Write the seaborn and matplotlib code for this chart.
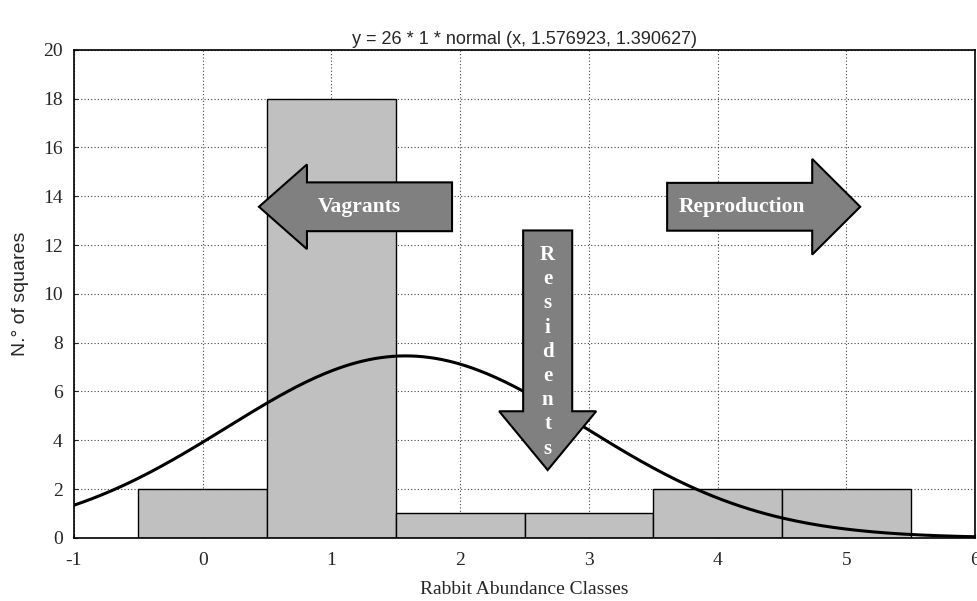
import numpy as np
import pandas as pd
import matplotlib
matplotlib.use("Agg")
import matplotlib.pyplot as plt
import seaborn as sns
from matplotlib.patches import FancyArrow

# histogram data: number of squares per rabbit abundance class
classes = [0, 1, 2, 3, 4, 5]
counts = [2, 18, 1, 1, 2, 2]

# fitted normal from the chart title
n_total = 26
mu = 1.576923
sigma = 1.390627

x_ticks = [-1, 0, 1, 2, 3, 4, 5, 6]
y_ticks = [0, 2, 4, 6, 8, 10, 12, 14, 16, 18, 20]


def fitted_curve():
    x = np.linspace(-1, 6, 300)
    y = n_total * 1 * np.exp(-0.5 * ((x - mu) / sigma) ** 2) / (sigma * np.sqrt(2 * np.pi))
    return pd.DataFrame({"x": x, "y": y})


sns.set_style("ticks")
plt.rcParams["font.family"] = ["Liberation Serif", "DejaVu Serif"]
plt.rcParams["axes.unicode_minus"] = False

fig = plt.figure(figsize=(9.77, 6.01), dpi=100)
ax = fig.add_axes([0.0757, 0.105, 0.9223, 0.812])

df = pd.DataFrame({"cls": classes, "n": counts})
sns.histplot(data=df, x="cls", weights="n", discrete=True, ax=ax,
             color="#c0c0c0", edgecolor="black", linewidth=1.0, alpha=1, zorder=2)

curve = fitted_curve()
sns.lineplot(data=curve, x="x", y="y", ax=ax, color="black", linewidth=2.2, zorder=3)

ax.set_xlim(-1, 6)
ax.set_ylim(0, 20)
ax.set_xticks(x_ticks)
ax.set_yticks(y_ticks)
ax.grid(True, color="#444444", linestyle=(0, (1, 2)), linewidth=0.8, zorder=0)
ax.set_axisbelow(True)
ax.tick_params(direction="in", length=3, labelsize=14, width=0.8)
ax.tick_params(axis="x", pad=10)
ax.tick_params(axis="y", pad=8)
for s in ax.spines.values():
    s.set_linewidth(1.2)
    s.set_color("black")

ax.set_xlabel("Rabbit Abundance Classes", fontsize=14, labelpad=9)
ax.set_ylabel("N.° of squares", fontsize=14, family=["Liberation Sans"], labelpad=10)
ax.set_title("y = 26 * 1 * normal (x, 1.576923, 1.390627)", fontsize=13,
             family=["Liberation Sans"], pad=4)

# annotation arrows
arrow_style = dict(length_includes_head=True, facecolor="#808080",
                   edgecolor="black", linewidth=1.5, zorder=5)
ax.add_patch(FancyArrow(1.937, 13.57, -1.50, 0, width=2.0, head_width=3.47,
                        head_length=0.373, **arrow_style))
ax.text(1.22, 13.57, "Vagrants", color="white", fontsize=15.5, fontweight="bold",
        ha="center", va="center", zorder=6)

ax.add_patch(FancyArrow(3.608, 13.57, 1.50, 0, width=1.96, head_width=3.92,
                        head_length=0.373, **arrow_style))
ax.text(4.19, 13.57, "Reproduction", color="white", fontsize=15.5, fontweight="bold",
        ha="center", va="center", zorder=6)

ax.add_patch(FancyArrow(2.68, 12.6, 0, -9.82, width=0.381, head_width=0.754,
                        head_length=2.41, **arrow_style))
ax.text(2.68, 7.63, "\n".join("Residents"), color="white", fontsize=15,
        fontweight="bold", ha="center", va="center", multialignment="center",
        linespacing=1.28, zorder=6)

fig.savefig("out.png", dpi=100)
